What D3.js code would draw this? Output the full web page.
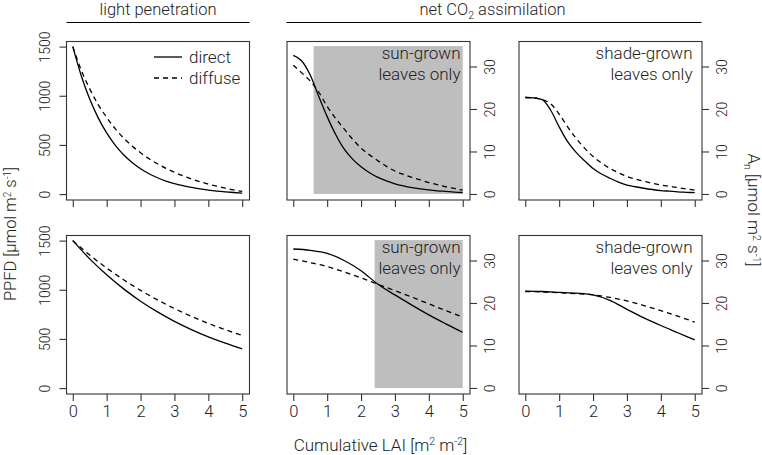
<!DOCTYPE html>
<html>
<head>
<meta charset="utf-8">
<script src="https://cdn.jsdelivr.net/npm/d3@7"></script>
<style>
  html, body { margin: 0; padding: 0; background: #fff; }
  svg { display: block; }
  text { font-family: Roboto, "Liberation Sans", Arial, sans-serif; font-weight: 300; fill: #222; }
</style>
</head>
<body>
<svg id="chart" width="762" height="455"></svg>
<script>
// ---------- data ----------
const laiFine = [0,0.25,0.5,0.75,1,1.25,1.5,1.75,2,2.25,2.5,2.75,3,3.25,3.5,3.75,4,4.25,4.5,4.75,5];
const laiCoarse = [0,0.5,1,1.5,2,2.5,3,3.5,4,4.5,5];

// light penetration (PPFD), top row (fine grid)
const ppfdDirectTop  = [1500,1204,966,775,622,499,400,321,258,207,166,133,107,86,68,53,41,31,23,16,10];
const ppfdDiffuseTop = [1500,1260,1070,910,780,665,570,490,420,360,308,262,222,186,154,126,102,80,60,42,27];
// light penetration (PPFD), bottom row (coarse grid)
const ppfdDirectBot  = [1500,1314,1152,1009,884,775,679,595,521,457,400];
const ppfdDiffuseBot = [1500,1353,1221,1102,994,897,809,730,658,594,535];

// net CO2 assimilation, sun-grown leaves, top row (fine grid)
const anSunDirectTop  = [32.6,31.3,28.0,23.0,18.2,14.0,10.6,8.2,6.4,5.0,3.9,3.1,2.4,1.9,1.5,1.2,0.95,0.75,0.6,0.45,0.35];
const anSunDiffuseTop = [30.3,28.5,26.6,24.0,20.6,17.8,15.3,12.9,10.8,9.2,7.8,6.5,5.4,4.6,3.9,3.3,2.7,2.2,1.7,1.3,0.9];
// net CO2 assimilation, shade-grown leaves, top row (fine grid)
const anShadeDirectTop  = [22.7,22.6,22.2,19.7,15.8,12.3,9.8,7.8,6.0,4.7,3.7,2.8,2.1,1.7,1.35,1.05,0.8,0.65,0.5,0.4,0.3];
const anShadeDiffuseTop = [22.7,22.6,22.2,21.2,18.8,15.8,13.1,10.8,8.8,7.3,6.0,5.0,4.1,3.5,3.0,2.5,2.1,1.8,1.5,1.2,0.9];
// bottom row (coarse grid)
const anSunDirectBot    = [32.7,32.4,31.7,30.0,27.6,24.4,21.9,19.5,17.2,15.1,13.1];
const anSunDiffuseBot   = [30.3,29.5,28.6,27.3,25.9,24.4,22.9,21.4,19.8,18.2,16.7];
const anShadeDirectBot  = [22.8,22.7,22.5,22.3,21.9,20.6,18.5,16.5,14.7,13.0,11.3];
const anShadeDiffuseBot = [22.7,22.6,22.4,22.2,21.9,21.3,20.5,19.4,18.2,16.9,15.5];

// shaded regions (sun-grown leaves only): [LAI start, LAI end, An top]
const sunRegionTop = [0.6, 5, 34.8];
const sunRegionBot = [2.4, 5, 34.8];

const xTicks = [0,1,2,3,4,5];
const ppfdTicks = [0,500,1000,1500];
const anTicks = [0,10,20,30];

// ---------- layout ----------
const svg = d3.select("#chart");
const colX = [66, 286.5, 518.5];
const panelW = 183;
const rowY = [41, 235];
const panelH = 158.5;

const xDomain = [-0.2, 5.2];
const ppfdDomain = [-55, 1557];
const anDomain = [-1.3, 36.0];

const FONT = "Roboto, 'Liberation Sans', Arial, sans-serif";

const panels = [
  {col:0,row:0,kind:"ppfd",x:laiFine,direct:ppfdDirectTop,diffuse:ppfdDiffuseTop,legend:true},
  {col:1,row:0,kind:"an",x:laiFine,direct:anSunDirectTop,diffuse:anSunDiffuseTop,region:sunRegionTop,note:["sun-grown","leaves only"]},
  {col:2,row:0,kind:"an",x:laiFine,direct:anShadeDirectTop,diffuse:anShadeDiffuseTop,note:["shade-grown","leaves only"]},
  {col:0,row:1,kind:"ppfd",x:laiCoarse,direct:ppfdDirectBot,diffuse:ppfdDiffuseBot,xlabels:true},
  {col:1,row:1,kind:"an",x:laiCoarse,direct:anSunDirectBot,diffuse:anSunDiffuseBot,region:sunRegionBot,note:["sun-grown","leaves only"],xlabels:true},
  {col:2,row:1,kind:"an",x:laiCoarse,direct:anShadeDirectBot,diffuse:anShadeDiffuseBot,note:["shade-grown","leaves only"],xlabels:true}
];

const boxColor = "#333";
const tickLen = 7;

panels.forEach(p => {
  const x0 = colX[p.col], y0 = rowY[p.row];
  const g = svg.append("g").attr("transform", `translate(${x0},${y0})`);
  const x = d3.scaleLinear().domain(xDomain).range([0, panelW]);
  const y = d3.scaleLinear().domain(p.kind === "ppfd" ? ppfdDomain : anDomain).range([panelH, 0]);

  if (p.region) {
    g.append("rect")
      .attr("x", x(p.region[0])).attr("width", x(p.region[1]) - x(p.region[0]))
      .attr("y", y(p.region[2])).attr("height", y(0) - y(p.region[2]))
      .attr("fill", "#bebebe");
  }

  const line = (vals) => d3.line()
    .x((d,i) => x(p.x[i])).y(d => y(d))
    .curve(d3.curveMonotoneX)(vals);

  g.append("path").attr("d", line(p.direct))
    .attr("fill","none").attr("stroke","#000").attr("stroke-width",1.3);
  g.append("path").attr("d", line(p.diffuse))
    .attr("fill","none").attr("stroke","#000").attr("stroke-width",1.3)
    .attr("stroke-dasharray","5,4");

  // box
  g.append("rect").attr("x",0.5).attr("y",0.5).attr("width",panelW).attr("height",panelH)
    .attr("fill","none").attr("stroke",boxColor).attr("stroke-width",1.1);

  // x axis
  const xa = d3.axisBottom(x).tickValues(xTicks).tickSize(tickLen).tickPadding(4)
    .tickFormat(p.xlabels ? d3.format("d") : () => "");
  const xg = g.append("g").attr("transform", `translate(0,${panelH + 0.5})`).call(xa);
  xg.select(".domain").remove();
  xg.selectAll(".tick line").attr("stroke", boxColor).attr("stroke-width",1.1);
  xg.selectAll(".tick text").attr("font-size", 16.5).attr("fill","#222")
    .style("font-family",FONT).style("font-weight",300);

  // y axis
  if (p.kind === "ppfd") {
    const ya = d3.axisLeft(y).tickValues(ppfdTicks).tickSize(tickLen).tickFormat(d3.format("d"));
    const yg = g.append("g").attr("transform","translate(0.5,0)").call(ya);
    yg.select(".domain").remove();
    yg.selectAll(".tick line").attr("stroke", boxColor).attr("stroke-width",1.1);
    yg.selectAll(".tick text")
      .attr("x", null).attr("dy", null)
      .attr("transform", "translate(-17,0) rotate(-90)")
      .attr("text-anchor","middle")
      .attr("font-size", 14).attr("fill","#222")
      .style("font-family",FONT).style("font-weight",300);
  } else {
    const ya = d3.axisRight(y).tickValues(anTicks).tickSize(tickLen).tickFormat(d3.format("d"));
    const yg = g.append("g").attr("transform",`translate(${panelW + 0.5},0)`).call(ya);
    yg.select(".domain").remove();
    yg.selectAll(".tick line").attr("stroke", boxColor).attr("stroke-width",1.1);
    yg.selectAll(".tick text")
      .attr("x", null).attr("dy", null)
      .attr("transform", "translate(25,0) rotate(-90)")
      .attr("text-anchor","middle")
      .attr("font-size", 14).attr("fill","#222")
      .style("font-family",FONT).style("font-weight",300);
  }

  if (p.note) {
    p.note.forEach((t, i) => {
      g.append("text").attr("x", panelW - 9).attr("y", 18 + i * 20.5)
        .attr("text-anchor","end").attr("font-size",17).text(t);
    });
  }

  if (p.legend) {
    const items = [{label:"direct", dash:null},{label:"diffuse", dash:"5,4"}];
    items.forEach((it, i) => {
      const ly = 16 + i * 21;
      g.append("line").attr("x1", 88).attr("x2", 116).attr("y1", ly).attr("y2", ly)
        .attr("stroke","#000").attr("stroke-width",1.3)
        .attr("stroke-dasharray", it.dash);
      g.append("text").attr("x", 123).attr("y", ly + 5.5).attr("font-size",17).text(it.label);
    });
  }
});

// column headers
svg.append("line").attr("x1", 66.5).attr("x2", 249.5).attr("y1", 22.5).attr("y2", 22.5)
  .attr("stroke","#000").attr("stroke-width",1.2);
svg.append("text").attr("x", 158).attr("y", 15).attr("text-anchor","middle")
  .attr("font-size",16.5).text("light penetration");

svg.append("line").attr("x1", 286.5).attr("x2", 701.5).attr("y1", 22.5).attr("y2", 22.5)
  .attr("stroke","#000").attr("stroke-width",1.2);
const hdr = svg.append("text").attr("x", 492.5).attr("y", 15).attr("text-anchor","middle")
  .attr("font-size",16.5);
hdr.append("tspan").text("net CO");
hdr.append("tspan").attr("font-size",10.5).attr("dy",3.5).text("2");
hdr.append("tspan").attr("dy",-3.5).text(" assimilation");

// axis titles
const xt = svg.append("text").attr("x", 380.5).attr("y", 451).attr("text-anchor","middle").attr("font-size",17);
xt.append("tspan").text("Cumulative LAI [m");
xt.append("tspan").attr("font-size",10.5).attr("dy",-6).text("2");
xt.append("tspan").attr("dy",6).text(" m");
xt.append("tspan").attr("font-size",10.5).attr("dy",-6).text("-2");
xt.append("tspan").attr("dy",6).text("]");

const yl = svg.append("text").attr("transform","translate(15.5,234) rotate(-90)")
  .attr("text-anchor","middle").attr("font-size",16.5);
yl.append("tspan").text("PPFD [µmol m");
yl.append("tspan").attr("font-size",10).attr("dy",-4.5).text("2");
yl.append("tspan").attr("dy",4.5).text(" s");
yl.append("tspan").attr("font-size",10).attr("dy",-4.5).text("-1");
yl.append("tspan").attr("dy",4.5).text("]");

const yr = svg.append("text").attr("transform","translate(747.5,210) rotate(90)")
  .attr("text-anchor","middle").attr("font-size",17);
yr.append("tspan").text("A");
yr.append("tspan").attr("font-size",10.5).attr("dy",4).text("n");
yr.append("tspan").attr("dy",-4).text(" [µmol m");
yr.append("tspan").attr("font-size",10.5).attr("dy",-5).text("2");
yr.append("tspan").attr("dy",5).text(" s");
yr.append("tspan").attr("font-size",10.5).attr("dy",-5).text("-1");
yr.append("tspan").attr("dy",5).text("]");
</script>
</body>
</html>
